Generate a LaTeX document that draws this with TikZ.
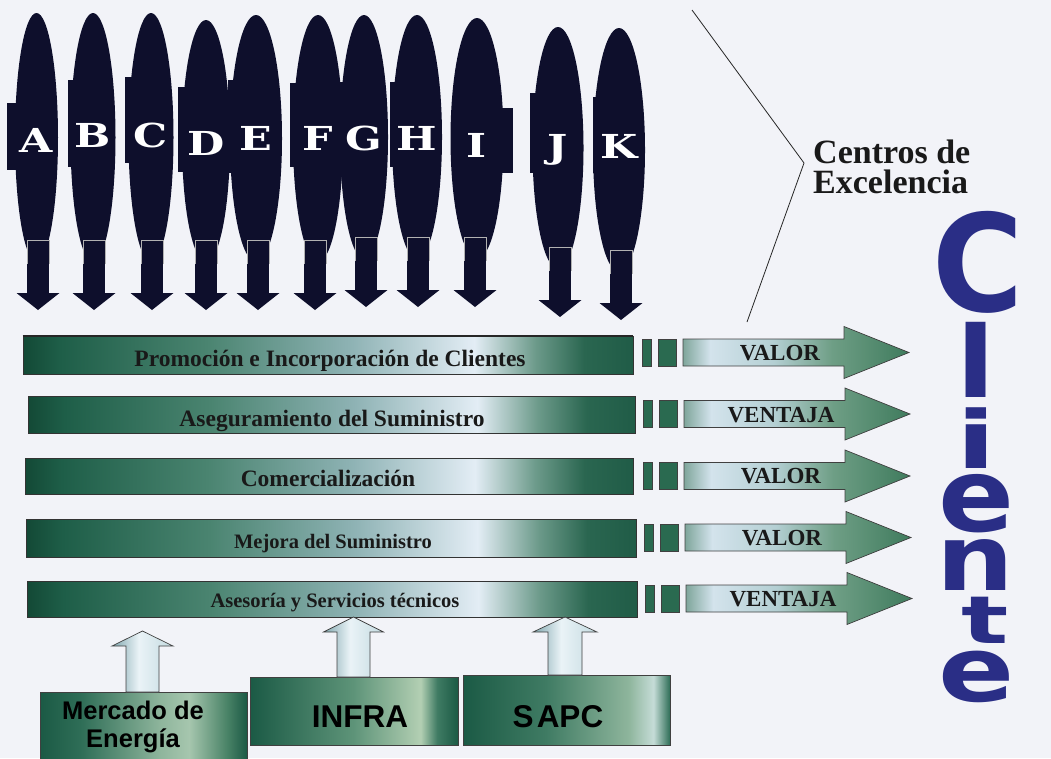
\documentclass[tikz,border=0pt]{standalone}
\usepackage{fontspec}
\setmainfont{Liberation Serif}
\newfontfamily\slabfont{DejaVu Serif}
\newfontfamily\headsans{Liberation Sans}
\newfontfamily\heavysans{DejaVu Sans}
\usetikzlibrary{shapes.geometric}

% palette
\definecolor{paper}{HTML}{F2F3F8}
\definecolor{pillnavy}{HTML}{0E0F2C}
\definecolor{bdA}{HTML}{134936}
\definecolor{bdB}{HTML}{1E5E48}
\definecolor{bdC}{HTML}{4A8470}
\definecolor{bdD}{HTML}{8FB3B5}
\definecolor{bdE}{HTML}{E3EDF5}
\definecolor{bdF}{HTML}{6C9A8A}
\definecolor{bdG}{HTML}{2A6650}
\definecolor{bdH}{HTML}{205C47}
\definecolor{vaA}{HTML}{7FA69B}
\definecolor{vaB}{HTML}{D3E3EC}
\definecolor{vaC}{HTML}{B4CFD3}
\definecolor{vaD}{HTML}{6E9E85}
\definecolor{vaE}{HTML}{3F7B5D}
\definecolor{uaA}{HTML}{7FA6AE}
\definecolor{uaB}{HTML}{EAF3F7}
\definecolor{uaC}{HTML}{C3DAE0}
\definecolor{bxA}{HTML}{1B5A45}
\definecolor{bxB}{HTML}{2F6E57}
\definecolor{bxC}{HTML}{8EB59C}
\definecolor{bxD}{HTML}{A6C6AE}
\definecolor{bxE}{HTML}{4B8468}
\definecolor{bxF}{HTML}{5E9479}
\definecolor{bxG}{HTML}{B3CFB3}
\definecolor{bxH}{HTML}{3F7B63}
\definecolor{bxI}{HTML}{C5DCD7}
\definecolor{sqgreen}{HTML}{2A6A50}
\definecolor{clientblue}{HTML}{2A2E86}

% gradients (the middle 50bp span the filled shape)
\pgfdeclarehorizontalshading{barshade}{100bp}{color(0bp)=(bdA); color(25bp)=(bdA);
  color(28bp)=(bdB); color(40bp)=(bdC); color(52bp)=(bdD); color(62bp)=(bdE);
  color(67bp)=(bdF); color(71bp)=(bdG); color(75bp)=(bdH); color(100bp)=(bdH)}
\pgfdeclarehorizontalshading{valshade}{100bp}{color(0bp)=(vaA); color(25bp)=(vaA);
  color(31bp)=(vaB); color(45bp)=(vaC); color(58bp)=(vaD); color(75bp)=(vaE); color(100bp)=(vaE)}
\pgfdeclarehorizontalshading{upshade}{100bp}{color(0bp)=(uaA); color(25bp)=(uaA);
  color(47bp)=(uaB); color(75bp)=(uaC); color(100bp)=(uaC)}
\pgfdeclarehorizontalshading{mercshade}{100bp}{color(0bp)=(bxA); color(25bp)=(bxA);
  color(35bp)=(bxB); color(54bp)=(bxC); color(61bp)=(bxD); color(70bp)=(bxE); color(75bp)=(bxA); color(100bp)=(bxA)}
\pgfdeclarehorizontalshading{infrashade}{100bp}{color(0bp)=(bxA); color(25bp)=(bxA);
  color(50bp)=(bxF); color(66bp)=(bxG); color(70bp)=(bxH); color(75bp)=(bxA); color(100bp)=(bxA)}
\pgfdeclarehorizontalshading{sapcshade}{100bp}{color(0bp)=(bxA); color(25bp)=(bxA);
  color(45bp)=(bxH); color(65bp)=(bxC); color(71bp)=(bxI); color(75bp)=(bxB); color(100bp)=(bxB)}

% a dark pill with its letter and the arrow below it
% #1 name, #2 centre x, #3 top, #4 half width, #5 arrow tip, #6 letter baseline, #7 letter, #8 arrow x
\newcommand\pillarrow[8]{%
  \pgfmathsetmacro\pbot{#5-48}%
  \pgfmathsetmacro\pcy{(#3+\pbot)/2}%
  \pgfmathsetmacro\pht{\pbot-#3}%
  \pgfmathsetmacro\pwd{2*#4}%
  \node[pill, ellipse, inner sep=0pt, minimum width=\pwd pt, minimum height=\pht pt] (#1) at (#2,\pcy) {};
  \fill[pill] (#8-11,#5-70) rectangle (#8+11,#5-17);
  \draw[shaftline] (#8-11,#5-46) -- (#8-11,#5-70) -- (#8+11,#5-70) -- (#8+11,#5-46);
  \fill[pill] (#8-21.5,#5-17) -- (#8+21.5,#5-17) -- (#8,#5) -- cycle;
  \node[pillletter, anchor=base] (#1l) at (#2,#6) {#7};
}

% the two small blocks and the value arrow of one row
% #1 name, #2 row centre y, #3 x offset, #4 label, #5 label baseline
\newcommand\valrow[5]{%
  \draw[sq] (642+#3,#2-13.5) rectangle (651+#3,#2+13.5);
  \draw[sq] (658+#3,#2-13.5) rectangle (676+#3,#2+13.5);
  \path[valarrow] (683+#3,#2-13.5) -- (844+#3,#2-13.5) -- (844+#3,#2-26) -- (909+#3,#2)
    -- (844+#3,#2+26) -- (844+#3,#2+13.5) -- (683+#3,#2+13.5) -- cycle;
  \node[valtext, anchor=base] (#1) at (780+#3,#5) {#4};
}

% upward feed arrow: #1 x, #2 tip, #3 head base, #4 foot, #5 shaft half, #6 head half
\newcommand\feedarrow[6]{%
  \path[uparrow] (#1-#5,#4) -- (#1-#5,#3) -- (#1-#6,#3) -- (#1,#2) -- (#1+#6,#3)
    -- (#1+#5,#3) -- (#1+#5,#4) -- cycle;
}

\begin{document}
\begin{tikzpicture}[x=1pt,y=-1pt,
  pill/.style={fill=pillnavy, draw=none},
  shaftline/.style={draw=gray!60, line width=0.5pt},
  pillletter/.style={text=white, inner sep=0pt, xscale=1.3,
    font=\slabfont\bfseries\fontsize{33}{33}\selectfont},
  bar/.style={rectangle, draw=black!80, line width=0.8pt, shade, shading=barshade, inner sep=0pt},
  bartext/.style={inner sep=0pt, text=black!90},
  sq/.style={fill=sqgreen, draw=black!75, line width=0.6pt},
  valarrow/.style={shade, shading=valshade, draw=black!75, line width=0.7pt},
  valtext/.style={inner sep=0pt, text=black!90, font=\bfseries\fontsize{23}{28}\selectfont},
  uparrow/.style={shade, shading=upshade, draw=black!75, line width=0.7pt},
  srcbox/.style={rectangle, draw=black!75, line width=0.8pt, shade, inner sep=0pt},
  srctext/.style={inner sep=0pt, text=black, font=\headsans\bfseries},
  clientletter/.style={inner sep=0pt, text=clientblue, anchor=base},
]
\useasboundingbox (0,0) rectangle (1051,758);
\fill[paper] (0,0) rectangle (1051,758);

% side tabs behind the pills
\fill[pill] (7,103) rectangle (36,170);
\fill[pill] (68,80) rectangle (93,167);
\fill[pill] (125,77) rectangle (151,163);
\fill[pill] (178,87) rectangle (206,172);
\fill[pill] (228,80) rectangle (256,173);
\fill[pill] (290,83) rectangle (318,167);
\fill[pill] (336,82) rectangle (364,170);
\fill[pill] (390,82) rectangle (417,167);
\fill[pill] (477,108) rectangle (513,173);
\fill[pill] (530,93) rectangle (558,173);
\fill[pill] (593,97) rectangle (619,173);

% pills A..K
\pillarrow{pA}{36.5}{13}{21.5}{310}{152}{A}{38}
\pillarrow{pB}{93}{13}{22.5}{310}{147}{B}{94}
\pillarrow{pC}{151}{13}{22.5}{310}{147}{C}{152}
\pillarrow{pD}{206}{20}{24}{310}{155}{D}{206}
\pillarrow{pE}{256}{15}{26}{310}{150}{E}{258}
\pillarrow{pF}{318}{15}{25}{310}{150}{F}{315}
\pillarrow{pG}{364}{15}{24}{307}{150}{G}{366}
\pillarrow{pH}{417}{15}{25}{307}{150}{H}{418}
\pillarrow{pI}{477}{18}{26.5}{307}{157}{I}{475}
\pillarrow{pJ}{558}{27}{25.5}{317}{158}{J}{560}
\pillarrow{pK}{619}{28}{26}{320}{158}{K}{621}

% bracket and heading
\coordinate (brA) at (692,10);
\coordinate (brB) at (804,163);
\coordinate (brC) at (747,322);
\draw[line width=0.8pt, black!85] (brA) -- (brB) -- (brC);
\node[anchor=north west, align=left, inner sep=0pt, text=black!90,
  font=\bfseries\fontsize{34}{30}\selectfont] (cde) at (813,140) {Centros de\\Excelencia};

% process bars
\node[bar, minimum width=610pt, minimum height=38pt] (r1) at (328,355) {};
\node[bar, minimum width=607pt, minimum height=37pt] (r2) at (331.5,414.5) {};
\node[bar, minimum width=608pt, minimum height=36pt] (r3) at (329,476) {};
\node[bar, minimum width=610pt, minimum height=38pt] (r4) at (331,538) {};
\node[bar, minimum width=610pt, minimum height=36pt] (r5) at (332,599) {};
\draw[line width=2pt, black!85] (r1.north west) -- (r1.north east);

\node[bartext, anchor=base, font=\bfseries\fontsize{23.5}{28}\selectfont] (r1t) at (330,366) {Promoción e Incorporación de Clientes};
\node[bartext, anchor=base, font=\bfseries\fontsize{23.5}{28}\selectfont] (r2t) at (332,426) {Aseguramiento del Suministro};
\node[bartext, anchor=base, font=\bfseries\fontsize{23.5}{28}\selectfont] (r3t) at (328,486) {Comercialización};
\node[bartext, anchor=base, font=\bfseries\fontsize{20.5}{25}\selectfont] (r4t) at (333,548) {Mejora del Suministro};
\node[bartext, anchor=base, font=\bfseries\fontsize{20.5}{25}\selectfont] (r5t) at (335,607) {Asesoría y Servicios técnicos};

% blocks and value arrows
\valrow{v1}{352.5}{0}{VALOR}{360}
\valrow{v2}{414}{1}{VENTAJA}{422}
\valrow{v3}{476}{1}{VALOR}{483}
\valrow{v4}{537.5}{2}{VALOR}{545}
\valrow{v5}{598.5}{3}{VENTAJA}{606}

% source units
\node[srcbox, shading=mercshade, minimum width=207pt, minimum height=70pt] (mer) at (143.5,727) {};
\node[srcbox, shading=infrashade, minimum width=208pt, minimum height=68pt] (inf) at (354,711) {};
\node[srcbox, shading=sapcshade, minimum width=207pt, minimum height=70pt] (sap) at (566.5,710) {};

\node[srctext, anchor=north, align=center, font=\headsans\bfseries\fontsize{25.5}{28}\selectfont] (mert) at (133,701) {Mercado de\\Energía};
\node[srctext, anchor=base, font=\headsans\bfseries\fontsize{31.5}{34}\selectfont] (inft) at (360,727) {INFRA};
\node[srctext, anchor=base, font=\headsans\bfseries\fontsize{31.5}{34}\selectfont] (sapt) at (558,727) {S\kern3pt APC};

% feeds into the last bar
\feedarrow{142.5}{631}{646}{692}{16.5}{30.5}
\feedarrow{353.5}{617}{632}{677}{16.5}{30}
\feedarrow{565}{617}{632}{675}{17}{32}

% client word, one letter per line
\node[clientletter, xscale=0.92, font=\heavysans\bfseries\fontsize{135}{135}\selectfont] (c1) at (978,311) {C};
\node[clientletter, xscale=1.15, font=\heavysans\bfseries\fontsize{99}{99}\selectfont] (c2) at (976,397) {l};
\node[clientletter, xscale=1.45, font=\heavysans\bfseries\fontsize{80}{80}\selectfont] (c3) at (976,468) {i};
\node[clientletter, xscale=1.1, font=\heavysans\bfseries\fontsize{102}{102}\selectfont] (c4) at (977,531) {e};
\node[clientletter, xscale=1.2, font=\heavysans\bfseries\fontsize{91}{91}\selectfont] (c5) at (975,590) {n};
\node[clientletter, xscale=1.5, font=\heavysans\bfseries\fontsize{66}{66}\selectfont] (c6) at (985,643) {t};
\node[clientletter, xscale=1.25, font=\heavysans\bfseries\fontsize{90}{90}\selectfont] (c7) at (977,701) {e};
\end{tikzpicture}
\end{document}
